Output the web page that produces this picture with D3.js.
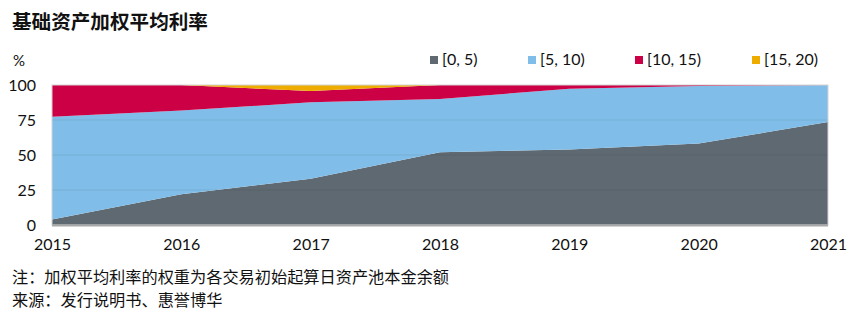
<!DOCTYPE html>
<html>
<head>
<meta charset="utf-8">
<script src="https://cdn.jsdelivr.net/npm/d3@7"></script>
<style>
  body { margin: 0; background: #fff; }
  svg text { font-family: Lato, "Noto Sans CJK SC", sans-serif; fill: #111; }
  .cjk { font-family: "Noto Sans CJK SC", sans-serif; }
</style>
</head>
<body>
<div id="chart"></div>
<script>
// data
var years = ["2015", "2016", "2017", "2018", "2019", "2020", "2021"];
var band0to5 = [4, 22, 33, 52, 54, 58.3, 73.5];
var band5to10 = [73.4, 59.7, 54.6, 38, 43.4, 41, 26.5];
var band10to15 = [22.6, 18.3, 8.1, 10, 2.6, 0.7, 0];
var band15to20 = [0, 0, 4.3, 0, 0, 0, 0];
var seriesNames = ["[0, 5)", "[5, 10)", "[10, 15)", "[15, 20)"];
var seriesColors = ["#5e6972", "#80bde8", "#cc0044", "#eeac00"];
var yTicks = [0, 25, 50, 75, 100];

var svgWidth = 864, svgHeight = 326;
var margin = { top: 85, right: 36, bottom: 101, left: 52 };
var width = svgWidth - margin.left - margin.right;
var height = svgHeight - margin.top - margin.bottom;

var svg = d3.select("#chart")
  .append("svg")
  .attr("width", svgWidth)
  .attr("height", svgHeight);

// build rows for the stack
var rows = years.map(function(y, i) {
  return { year: y, s0: band0to5[i], s1: band5to10[i], s2: band10to15[i], s3: band15to20[i] };
});
var stack = d3.stack().keys(["s0", "s1", "s2", "s3"]);
var layers = stack(rows);

var x = d3.scalePoint().domain(years).range([0, width]);
var y = d3.scaleLinear().domain([0, 100]).range([height, 0]);

var g = svg.append("g")
  .attr("transform", "translate(" + margin.left + "," + margin.top + ")");

var area = d3.area()
  .x(function(d) { return x(d.data.year); })
  .y0(function(d) { return y(d[0]); })
  .y1(function(d) { return y(Math.min(d[1], 100)); });

g.selectAll("path.layer")
  .data(layers)
  .enter().append("path")
  .attr("class", "layer")
  .attr("d", area)
  .attr("fill", function(d, i) { return seriesColors[i]; });

// faint gridlines on top
g.selectAll("line.grid")
  .data([25, 50, 75])
  .enter().append("line")
  .attr("x1", 0).attr("x2", width)
  .attr("y1", function(d) { return y(d); })
  .attr("y2", function(d) { return y(d); })
  .attr("stroke", "#000")
  .attr("stroke-opacity", 0.05)
  .attr("stroke-width", 1.5);

// frame
g.append("rect")
  .attr("width", width).attr("height", height)
  .attr("fill", "none")
  .attr("stroke", "#d4d4d4")
  .attr("stroke-width", 1);
g.append("line")
  .attr("x1", 0).attr("x2", width)
  .attr("y1", height + 0.5).attr("y2", height + 0.5)
  .attr("stroke", "#a8a8a8")
  .attr("stroke-width", 2);

// y axis labels
var yAxis = d3.axisLeft(y).tickValues(yTicks).tickSize(0).tickPadding(16);
g.append("g").call(yAxis)
  .call(function(s) { s.select(".domain").remove(); })
  .selectAll("text")
  .style("font-size", "16px")
  .style("font-family", "Lato, sans-serif")
  .attr("fill", "#111");

// x axis labels
var xAxis = d3.axisBottom(x).tickSize(0).tickPadding(14);
g.append("g")
  .attr("transform", "translate(0," + height + ")")
  .call(xAxis)
  .call(function(s) { s.select(".domain").remove(); })
  .selectAll("text")
  .style("font-size", "16px")
  .style("font-family", "Lato, sans-serif")
  .attr("fill", "#111");

// title and unit
svg.append("text")
  .attr("class", "cjk")
  .attr("x", 12).attr("y", 29)
  .style("font-size", "19.6px")
  .style("font-weight", "bold")
  .text("基础资产加权平均利率");
svg.append("text")
  .attr("x", 13).attr("y", 66)
  .style("font-size", "15px")
  .text("%");

// legend
var legendX = [430, 528, 635, 752];
var legend = svg.selectAll("g.legend")
  .data(seriesNames)
  .enter().append("g")
  .attr("class", "legend")
  .attr("transform", function(d, i) { return "translate(" + legendX[i] + ",56)"; });
legend.append("rect")
  .attr("width", 8).attr("height", 8)
  .attr("fill", function(d, i) { return seriesColors[i]; });
legend.append("text")
  .attr("x", 12).attr("y", 9)
  .style("font-size", "16px")
  .text(function(d) { return d; });

// notes
svg.append("text")
  .attr("class", "cjk")
  .attr("x", 12).attr("y", 283)
  .style("font-size", "16.2px")
  .text("注：加权平均利率的权重为各交易初始起算日资产池本金余额");
svg.append("text")
  .attr("class", "cjk")
  .attr("x", 12).attr("y", 306)
  .style("font-size", "16.2px")
  .text("来源：发行说明书、惠誉博华");
</script>
</body>
</html>
